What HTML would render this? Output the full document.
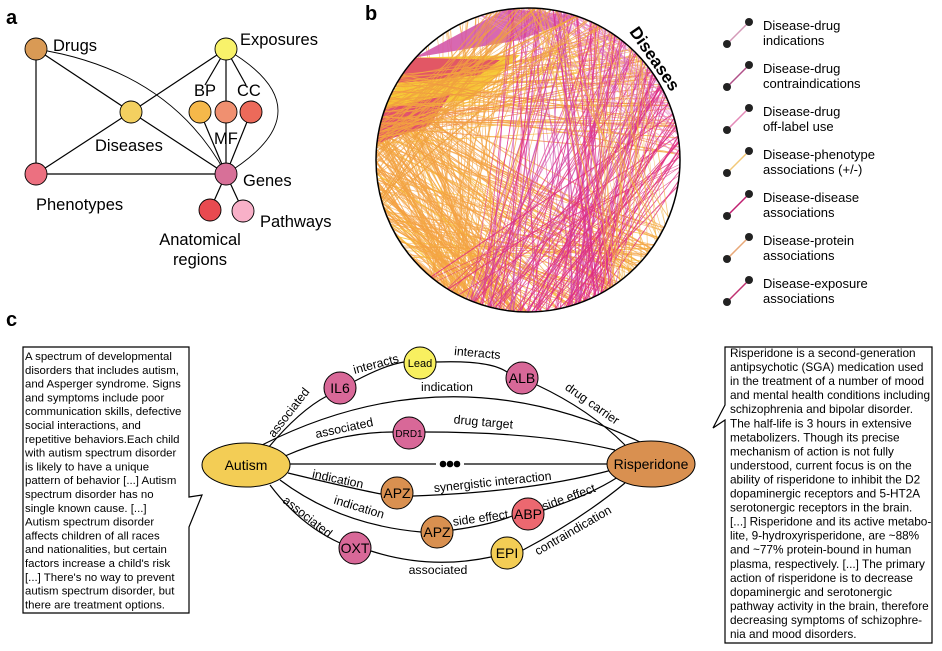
<!DOCTYPE html>
<html><head><meta charset="utf-8">
<style>
html,body{margin:0;padding:0;background:#fff;}
svg{display:block;font-family:"Liberation Sans",Arial,sans-serif;}
</style></head>
<body>
<svg id="s" width="942" height="651" viewBox="0 0 942 651" xmlns="http://www.w3.org/2000/svg">
<rect width="942" height="651" fill="#fff"/>
<!-- Panel a -->
<text x="6" y="24" font-size="20" font-weight="bold">a</text>
<g stroke="#000" stroke-width="1.2" fill="none">
<line x1="36" y1="49" x2="36" y2="174"/>
<line x1="36" y1="49" x2="131" y2="112"/>
<line x1="36" y1="174" x2="131" y2="112"/>
<line x1="36" y1="174" x2="226" y2="174"/>
<line x1="131" y1="112" x2="226" y2="174"/>
<line x1="131" y1="112" x2="226" y2="49"/>
<path d="M36,49 Q170,70 226,174" stroke-width="0.9"/>
<path d="M226,49 Q330,110 226,174" stroke-width="0.9"/>
<line x1="226" y1="49" x2="226" y2="174"/>
<line x1="226" y1="49" x2="205" y2="85"/>
<line x1="226" y1="49" x2="246" y2="85"/>
<line x1="200" y1="112" x2="226" y2="174"/>
<line x1="251" y1="112" x2="226" y2="174"/>
<line x1="226" y1="174" x2="210" y2="210"/>
<line x1="226" y1="174" x2="243" y2="211"/>
</g>
<g stroke="#000" stroke-width="0.9">
<circle cx="36" cy="49" r="11" fill="#d99a55"/>
<circle cx="226" cy="49" r="11" fill="#f8f26a"/>
<circle cx="131" cy="112" r="11" fill="#f3d060"/>
<circle cx="200" cy="112" r="11" fill="#f5b84a"/>
<circle cx="226" cy="112" r="11" fill="#f09070"/>
<circle cx="251" cy="112" r="11" fill="#ec6a5a"/>
<circle cx="36" cy="174" r="11" fill="#ec7080"/>
<circle cx="226" cy="174" r="11" fill="#d77098"/>
<circle cx="210" cy="210" r="11" fill="#e84a50"/>
<circle cx="243" cy="211" r="11" fill="#f8b0c8"/>
</g>
<g font-size="16.5" fill="#000">
<text x="53" y="51">Drugs</text>
<text x="240" y="45">Exposures</text>
<text x="95" y="151">Diseases</text>
<text x="194" y="96">BP</text>
<text x="237" y="96">CC</text>
<text x="214" y="144">MF</text>
<text x="36" y="210">Phenotypes</text>
<text x="243" y="186">Genes</text>
<text x="260" y="227">Pathways</text>
<text x="200" y="245" text-anchor="middle">Anatomical</text>
<text x="200" y="265" text-anchor="middle">regions</text>
</g>
<!-- Panel b -->
<text x="365" y="20" font-size="20" font-weight="bold">b</text>
<defs><clipPath id="cc"><circle cx="528" cy="160" r="152"/></clipPath></defs>
<g id="chords" clip-path="url(#cc)"></g>
<circle cx="528" cy="160" r="152" fill="none" stroke="#000" stroke-width="1.5"/>
<text x="650" y="62" font-size="17" font-weight="bold" text-anchor="middle" transform="rotate(55 650 62)">Diseases</text>
<!-- Legend -->
<g id="leg"></g>
<!-- Panel c -->
<text x="6" y="326" font-size="20" font-weight="bold">c</text>
<path d="M23,347 H189 V497 L202,495 L189,527 V613 H23 Z" fill="#fff" stroke="#000" stroke-width="1.2"/>
<g font-size="11.4" id="lt"></g>
<path d="M725,347 H932 V643 H725 V420 L713,428 L725,405 Z" fill="#fff" stroke="#000" stroke-width="1.2"/>
<g font-size="11.8" id="rt"></g>
<g stroke="#000" stroke-width="1.2" fill="none">
<path d="M268,448 Q300,410 327,396"/>
<path d="M355,381 Q385,365 404,362"/>
<path d="M436,362 Q490,360 507,372"/>
<path d="M537,385 Q590,410 625,445"/>
<path d="M262,445 Q450,350 640,442"/>
<path d="M285,456 Q340,432 393,432"/>
<path d="M425,432 Q540,432 615,450"/>
<path d="M290,464 L436,464 M464,464 L607,464"/>
<path d="M288,473 Q350,488 381,494"/>
<path d="M413,496 Q530,492 612,470"/>
<path d="M280,480 Q340,525 421,532"/>
<path d="M453,530 Q490,525 512,516"/>
<path d="M544,510 Q590,495 618,477"/>
<path d="M270,485 Q300,525 340,543"/>
<path d="M371,551 Q430,570 491,557"/>
<path d="M523,550 Q580,520 625,483"/>
</g>
<circle cx="443" cy="464" r="3.3"/><circle cx="450" cy="464" r="3.3"/><circle cx="457" cy="464" r="3.3"/>
<g stroke="#000" stroke-width="1">
<ellipse cx="246" cy="465" rx="44" ry="22" fill="#f3cd55"/>
<ellipse cx="651" cy="464" rx="44" ry="23" fill="#d99050"/>
<circle cx="420" cy="363" r="16" fill="#f8f060"/>
<circle cx="340" cy="388" r="16" fill="#d86898"/>
<circle cx="522" cy="378" r="16" fill="#d86898"/>
<circle cx="409" cy="433" r="16" fill="#d86898"/>
<circle cx="397" cy="493" r="16" fill="#d99050"/>
<circle cx="437" cy="532" r="16" fill="#d99050"/>
<circle cx="528" cy="514" r="16" fill="#ec6870"/>
<circle cx="355" cy="548" r="16" fill="#d86898"/>
<circle cx="507" cy="553" r="16" fill="#f3cd55"/>
</g>
<g text-anchor="middle" font-size="14">
<text x="246" y="470">Autism</text>
<text x="651" y="469">Risperidone</text>
<text x="420" y="367" font-size="11">Lead</text>
<text x="340" y="393">IL6</text>
<text x="522" y="383">ALB</text>
<text x="409" y="437" font-size="10">DRD1</text>
<text x="397" y="498">APZ</text>
<text x="437" y="537">APZ</text>
<text x="528" y="519">ABP</text>
<text x="355" y="553">OXT</text>
<text x="507" y="558">EPI</text>
</g>
<g text-anchor="middle" font-size="12.3">
<text transform="translate(292,415) rotate(-52)">associated</text>
<text transform="translate(377,368) rotate(-15)">interacts</text>
<text transform="translate(477,357) rotate(5)">interacts</text>
<text x="447" y="391">indication</text>
<text transform="translate(590,407) rotate(35)">drug carrier</text>
<text transform="translate(345,432) rotate(-12)">associated</text>
<text transform="translate(483,426) rotate(5)">drug target</text>
<text transform="translate(337,483) rotate(12)">indication</text>
<text transform="translate(493,486) rotate(-6)">synergistic interaction</text>
<text transform="translate(358,511) rotate(17)">indication</text>
<text transform="translate(481,522) rotate(-8)">side effect</text>
<text transform="translate(570,501) rotate(-20)">side effect</text>
<text transform="translate(305,520) rotate(38)">associated</text>
<text transform="translate(575,534) rotate(-30)">contraindication</text>
<text x="438" y="574">associated</text>
</g>
</svg>
<script>
(function(){
var NS="http://www.w3.org/2000/svg";
function el(t,a,p){var e=document.createElementNS(NS,t);for(var k in a)e.setAttribute(k,a[k]);p.appendChild(e);return e;}
var L=["A spectrum of developmental","disorders that includes autism,","and Asperger syndrome. Signs","and symptoms include poor","communication skills, defective","social interactions, and","repetitive behaviors.Each child","with autism spectrum disorder","is likely to have a unique","pattern of behavior [...] Autism","spectrum disorder has no","single known cause. [...]","Autism spectrum disorder","affects children of all races","and nationalities, but certain","factors increase a child's risk","[...] There's no way to prevent","autism spectrum disorder, but","there are treatment options."];
var g=document.getElementById("lt");
L.forEach(function(s,i){el("text",{x:25,y:360+i*13.8},g).textContent=s;});
var R=["Risperidone is a second-generation","antipsychotic (SGA) medication used","in the treatment of a number of mood","and mental health conditions including","schizophrenia and bipolar disorder.","The half-life is 3 hours in extensive","metabolizers. Though its precise","mechanism of action is not fully","understood, current focus is on the","ability of risperidone to inhibit the D2","dopaminergic receptors and 5-HT2A","serotonergic receptors in the brain.","[...] Risperidone and its active metabo-","lite, 9-hydroxyrisperidone, are ~88%","and ~77% protein-bound in human","plasma, respectively. [...] The primary","action of risperidone is to decrease","dopaminergic and serotonergic","pathway activity in the brain, therefore","decreasing symptoms of schizophre-","nia and mood disorders."];
g=document.getElementById("rt");
R.forEach(function(s,i){el("text",{x:730,y:357+i*14.05},g).textContent=s;});
var lg=document.getElementById("leg");
var items=[["Disease-drug","indications","#d49ab8"],["Disease-drug","contraindications","#b05088"],["Disease-drug","off-label use","#e48ab8"],["Disease-phenotype","associations (+/-)","#f2c878"],["Disease-disease","associations","#c02070"],["Disease-protein","associations","#e8a878"],["Disease-exposure","associations","#c03070"]];
items.forEach(function(it,i){var y=i*43;
el("line",{x1:727,y1:44+y,x2:749,y2:22+y,stroke:it[2],"stroke-width":1.5},lg);
el("circle",{cx:727,cy:44+y,r:4,fill:"#222"},lg);el("circle",{cx:749,cy:22+y,r:4,fill:"#222"},lg);
el("text",{x:763,y:30+y,"font-size":13},lg).textContent=it[0];
el("text",{x:763,y:45+y,"font-size":13},lg).textContent=it[1];});
var seed=12345;function rnd(){seed=(seed*1103515245+12345)%2147483648;return seed/2147483648;}
function U(a,b){return a+(b-a)*rnd();}
var cx=528,cy=160,r=153,cg=document.getElementById("chords");
function pt(a){a=a*Math.PI/180;return [cx+r*Math.cos(a),cy+r*Math.sin(a)];}
function ch(a1,a2,c,w,o){var p=pt(a1),q=pt(a2);el("line",{x1:p[0],y1:p[1],x2:q[0],y2:q[1],stroke:c,"stroke-width":w,"stroke-opacity":o},cg);}
var i;
for(i=0;i<170;i++){ch(U(140,215),U(25,125),rnd()<0.85?"#f4a040":"#f7c035",U(0.5,1.3),U(0.6,0.9));}
for(i=0;i<50;i++){ch(U(95,130),U(185,290),"#f4a545",U(0.5,1.2),0.8);}
// top-left fills
el("path",{d:"M"+pt(222).join(",")+" L"+pt(262).join(",")+" L"+pt(290).join(",")+" L520,40 Z",fill:"#d458a8",opacity:0.9},cg);
el("path",{d:"M"+pt(200).join(",")+" L"+pt(222).join(",")+" L520,55 L470,100 Z",fill:"#f5c830",opacity:0.95},cg);
el("path",{d:"M"+pt(210).join(",")+" L"+pt(222).join(",")+" L500,60 L480,75 Z",fill:"#e04a6a",opacity:0.9},cg);
el("path",{d:"M"+pt(186).join(",")+" L"+pt(200).join(",")+" L450,95 L430,125 Z",fill:"#e04a6a",opacity:0.95},cg);
for(i=0;i<60;i++){ch(U(185,215),U(300,360),rnd()<0.5?"#f6b83a":"#f09048",U(0.5,1.1),0.8);}
for(i=0;i<60;i++){ch(U(250,300),U(300,360),"#e888c8",U(0.4,0.9),0.7);}
for(i=0;i<90;i++){ch(U(262,335),U(55,115),rnd()<0.5?"#e0308a":"#d048a8",U(0.5,1.3),U(0.6,0.9));}
for(i=0;i<40;i++){ch(U(320,370),U(60,130),"#e02c80",U(0.5,1.2),0.8);}
for(i=0;i<40;i++){ch(U(255,300),U(160,200),"#f0a040",U(0.5,1.1),0.8);}
for(i=0;i<35;i++){ch(U(270,320),U(20,60),"#f4b040",U(0.5,1.0),0.7);}
})();
</script>
</body></html>
